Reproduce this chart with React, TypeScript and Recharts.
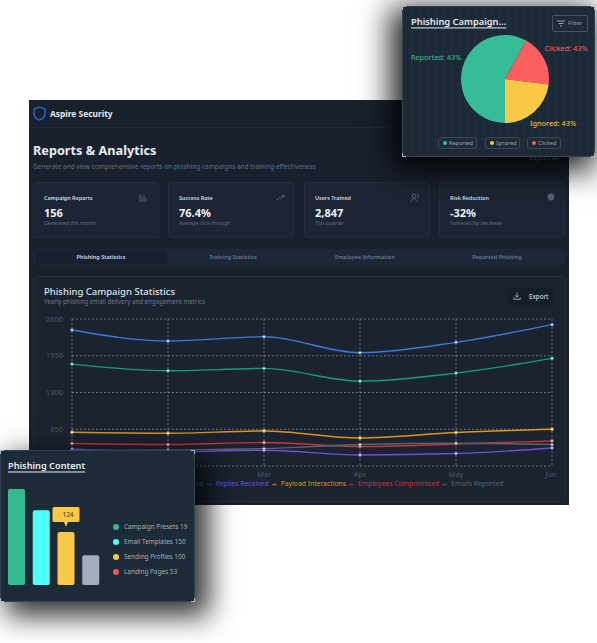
import React from "react";
import {
  Bar,
  BarChart,
  CartesianGrid,
  Cell,
  LabelList,
  Legend,
  Line,
  LineChart,
  Pie,
  PieChart,
  XAxis,
  YAxis,
} from "recharts";

const months = ["Jan", "Feb", "Mar", "Apr", "May", "Jun"];
const yTicks = [0, 650, 1300, 1950, 2600];

const emailsSent = [2405, 2210, 2286, 2003, 2187, 2500];
const emailsViewed = [1802, 1684, 1726, 1501, 1643, 1903];
const repliesReceived = [300, 250, 278, 195, 220, 319];
const payloadInteractions = [597, 580, 620, 496, 592, 650];
const employeesCompromised = [397, 380, 415, 344, 390, 443];
const emailsReported = [270, 285, 308, 379, 402, 379];

const lineSeries = [
  { name: "Emails Sent", values: emailsSent, color: "#3b78d8" },
  { name: "Emails Viewed", values: emailsViewed, color: "#0f9f78" },
  { name: "Replies Received", values: repliesReceived, color: "#6d4fd6" },
  { name: "Payload Interactions", values: payloadInteractions, color: "#dd9614" },
  { name: "Employees Compromised", values: employeesCompromised, color: "#c9323e" },
  { name: "Emails Reported", values: emailsReported, color: "#5b6370" },
];

const lineData = months.map((month, i) => {
  const row: Record<string, string | number> = { month };
  lineSeries.forEach((s) => (row[s.name] = s.values[i]));
  return row;
});

const pieNames = ["Reported", "Clicked", "Ignored"];
const pieValues = [58, 19, 23];
const pieColors = ["#36bd97", "#fb5e5e", "#f9c846"];
const pieLabels = ["Reported: 43%", "Clicked: 43%", "Ignored: 43%"];
const pieData = pieNames.map((name, i) => ({ name, value: pieValues[i] }));

const contentNames = ["Campaign Presets", "Email Templates", "Sending Profiles", "Landing Pages"];
const contentBars = [225, 175, 124, 70];
const contentCounts = [19, 150, 100, 53];
const barColors = ["#36b892", "#4ffff6", "#f9c846", "#a3adbd"];
const dotColors = ["#36b892", "#4ffff6", "#f9c846", "#f25a5a"];
const barData = contentNames.map((name, i) => ({ name, value: contentBars[i] }));

const statCards = [
  { title: "Campaign Reports", value: "156", sub: "Generated this month" },
  { title: "Success Rate", value: "76.4%", sub: "Average click-through" },
  { title: "Users Trained", value: "2,847", sub: "This quarter" },
  { title: "Risk Reduction", value: "-32%", sub: "Vulnerability decrease" },
];
const tabs = ["Phishing Statistics", "Training Statistics", "Employee Information", "Reported Phishing"];
const pills = [
  { name: "Reported", color: "#36bd97", x: 438, w: 39 },
  { name: "Ignored", color: "#f9c846", x: 485, w: 35 },
  { name: "Clicked", color: "#fb5e5e", x: 527, w: 34 },
];

const FONT = "'Noto Sans', sans-serif";

function T(props: {
  x: number;
  y: number;
  size: number;
  color: string;
  weight?: number;
  anchor?: "left" | "center";
  underline?: boolean;
  children: React.ReactNode;
}) {
  const { x, y, size, color, weight = 400, anchor = "left", underline, children } = props;
  return (
    <div
      style={{
        position: "absolute",
        left: x,
        top: y,
        transform: anchor === "center" ? "translate(-50%,-50%)" : "translateY(-50%)",
        fontSize: size,
        color,
        fontWeight: weight,
        whiteSpace: "nowrap",
        lineHeight: 1.2,
        textDecoration: underline ? "underline" : "none",
        textUnderlineOffset: 2,
      }}
    >
      {children}
    </div>
  );
}

function Box({ x, y, w, h, style }: { x: number; y: number; w: number; h: number; style?: React.CSSProperties }) {
  return <div style={{ position: "absolute", left: x, top: y, width: w, height: h, boxSizing: "border-box", ...style }} />;
}

// little light brackets on the corners of the floating cards
function Corners({ x, y, w, h }: { x: number; y: number; w: number; h: number }) {
  const c = "1px solid #aab8c0";
  return (
    <>
      <Box x={x} y={y} w={4} h={4} style={{ borderLeft: c, borderTop: c }} />
      <Box x={x + w - 4} y={y} w={4} h={4} style={{ borderRight: c, borderTop: c }} />
      <Box x={x} y={y + h - 4} w={4} h={4} style={{ borderLeft: c, borderBottom: c }} />
      <Box x={x + w - 4} y={y + h - 4} w={4} h={4} style={{ borderRight: c, borderBottom: c }} />
    </>
  );
}

const overlayCard: React.CSSProperties = {
  backgroundColor: "#1c2a37",
  backgroundImage:
    "repeating-linear-gradient(0deg, rgba(120,160,170,.035) 0 1px, transparent 1px 8px), repeating-linear-gradient(90deg, rgba(120,160,170,.035) 0 1px, transparent 1px 8px)",
  border: "1px solid #33424f",
};

function PieLabel(props: any) {
  const offsets = [
    [-69, -22],
    [61, -31],
    [48, 44],
  ];
  const [dx, dy] = offsets[props.index];
  return (
    <text
      x={props.cx + dx}
      y={props.cy + dy}
      textAnchor="middle"
      dominantBaseline="central"
      fontSize={7.4}
      fill={pieColors[props.index]}
    >
      {pieLabels[props.index]}
    </text>
  );
}

function BarCallout(props: any) {
  const { x, y, width, value, index } = props;
  if (index !== 2) return null;
  const cx = x + width / 2;
  return (
    <g>
      <path
        d={`M${cx - 12} ${y - 25} h24 a1.5 1.5 0 0 1 1.5 1.5 v12 a1.5 1.5 0 0 1 -1.5 1.5 h-10 l-2 5 l-2 -5 h-10 a1.5 1.5 0 0 1 -1.5 -1.5 v-12 a1.5 1.5 0 0 1 1.5 -1.5 z`}
        fill="#f9c846"
      />
      <text x={cx + 2} y={y - 17.5} textAnchor="middle" dominantBaseline="central" fontSize={6.5} fill="#3a3420">
        {value}
      </text>
    </g>
  );
}

export default function App() {
  return (
    <div style={{ position: "absolute", left: 0, top: 0, width: 597, height: 643, overflow: "hidden", background: "#fff", fontFamily: FONT }}>
      <style>{`.recharts-default-legend li { margin-right: 3px !important; }`}</style>
      {/* main dashboard panel */}
      <Box x={29} y={100} w={540} h={405} style={{ background: "#1a212e" }} />
      <Box x={29} y={127} w={540} h={1} style={{ background: "#232c3a" }} />
      <svg style={{ position: "absolute", left: 33, top: 106 }} width={13} height={15} viewBox="0 0 13 15">
        <path d="M6.5 1 L12 3 V7.5 C12 11 9.5 13 6.5 14 C3.5 13 1 11 1 7.5 V3 Z" fill="none" stroke="#2f6fd8" strokeWidth={1.3} />
      </svg>
      <T x={50} y={114} size={8.4} weight={700} color="#e3e8ee">Aspire Security</T>
      <T x={33} y={151} size={12.7} weight={700} color="#e8ecf1">Reports &amp; Analytics</T>
      <T x={33} y={167} size={6.5} color="#5f6e83">Generate and view comprehensive reports on phishing campaigns and training effectiveness</T>
      <T x={450} y={158} size={6.5} color="#3c4656">Last 30 days</T>
      <T x={530} y={158} size={6.5} color="#8a94a3">Export All</T>

      {statCards.map((c, i) => {
        const left = [33, 168, 304, 439][i];
        return (
          <React.Fragment key={c.title}>
            <Box x={left} y={182} w={126} h={55.5} style={{ background: "#1d2534", border: "1px solid #252e3e", borderRadius: 4 }} />
            <T x={left + 11} y={198} size={5.4} weight={600} color="#d5dbe3">{c.title}</T>
            <T x={left + 11} y={213} size={11} weight={700} color="#eef1f5">{c.value}</T>
            <T x={left + 11} y={223} size={5} color="#5f6e83">{c.sub}</T>
          </React.Fragment>
        );
      })}
      <svg style={{ position: "absolute", left: 139, top: 193 }} width={9} height={9} viewBox="0 0 9 9">
        <path d="M1 1 V8 H8 M3 7 V4 M5 7 V2 M7 7 V5" stroke="#5f6e83" strokeWidth={0.8} fill="none" />
      </svg>
      <svg style={{ position: "absolute", left: 276, top: 194 }} width={9} height={7} viewBox="0 0 9 7">
        <path d="M1 6 L3.5 3.5 L5 4.5 L8 1.5 M6 1.5 H8 V3.5" stroke="#5f6e83" strokeWidth={0.8} fill="none" />
      </svg>
      <svg style={{ position: "absolute", left: 410, top: 193 }} width={10} height={9} viewBox="0 0 10 9">
        <circle cx={4} cy={3} r={2} stroke="#5f6e83" strokeWidth={0.8} fill="none" />
        <path d="M1 8.5 C1 5 7 5 7 8.5 M7 1 C9 1.5 9 4.5 7 5" stroke="#5f6e83" strokeWidth={0.8} fill="none" />
      </svg>
      <svg style={{ position: "absolute", left: 547, top: 193 }} width={8} height={8} viewBox="0 0 8 8">
        <circle cx={4} cy={4} r={3.4} fill="#566275" />
      </svg>

      <Box x={33} y={249} w={532} h={16} style={{ background: "#1e2737", borderRadius: 3 }} />
      <Box x={35} y={250} w={132} h={14} style={{ background: "#182030", borderRadius: 2 }} />
      {tabs.map((t, i) => (
        <T key={t} x={[101, 233, 365, 497][i]} y={257} size={5.5} weight={600} anchor="center" color={i === 0 ? "#d5dbe3" : "#66778f"}>
          {t}
        </T>
      ))}

      <Box x={33} y={276} w={533} h={226} style={{ background: "#1b2331", border: "1px solid #252e3d", borderRadius: 4 }} />
      <T x={44} y={292} size={9.5} weight={500} color="#dfe4ea">Phishing Campaign Statistics</T>
      <T x={44} y={301.5} size={6.2} color="#6a7789">Yearly phishing email delivery and engagement metrics</T>
      <Box x={508} y={288} w={45} h={17} style={{ background: "#171e2a", borderRadius: 2 }} />
      <svg style={{ position: "absolute", left: 513, top: 292 }} width={8} height={8} viewBox="0 0 8 8">
        <path d="M4 0.5 V5 M2.2 3.4 L4 5.2 L5.8 3.4 M0.8 5.5 V7.3 H7.2 V5.5" stroke="#cfd5dd" strokeWidth={0.7} fill="none" />
      </svg>
      <T x={529} y={296.5} size={6.2} weight={500} color="#cfd5dd">Export</T>

      <div style={{ position: "absolute", left: 44, top: 312 }}>
        <LineChart width={512} height={178} data={lineData} margin={{ top: 7, right: 4, bottom: 2, left: 0 }}>
          <CartesianGrid stroke="#6b7382" strokeDasharray="2 2" />
          <XAxis dataKey="month" height={13} tick={{ fontSize: 7.5, fill: "#4c5768", dy: -2 }} tickLine={false} axisLine={false} tickMargin={2} />
          <YAxis width={28} domain={[0, 2600]} ticks={yTicks} tick={{ fontSize: 7.5, fill: "#4c5768" }} tickLine={false} axisLine={false} tickMargin={3} />
          <Legend iconSize={5} itemSorter={null} wrapperStyle={{ fontSize: 6.8, paddingLeft: 11, boxSizing: "border-box" }} />
          {lineSeries.map((s) => (
            <Line
              key={s.name}
              type="monotone"
              dataKey={s.name}
              stroke={s.color}
              strokeWidth={1.4}
              dot={{ r: 1.4, fill: "#fff", stroke: s.color, strokeWidth: 0.8 }}
              isAnimationActive={false}
            />
          ))}
        </LineChart>
      </div>

      {/* pie overlay */}
      <Box x={402} y={6} w={193} h={151} style={{ ...overlayCard, boxShadow: "-6px 8px 28px 6px rgba(0,0,0,.85)" }} />
      <Corners x={402} y={6} w={193} h={151} />
      <T x={411} y={22} size={9.3} weight={600} underline color="#e6ecee">Phishing Campaign...</T>
      <Box x={552} y={15} w={36} h={17} style={{ border: "1px solid #46535f", borderRadius: 2 }} />
      <svg style={{ position: "absolute", left: 557, top: 20 }} width={8} height={7} viewBox="0 0 8 7">
        <path d="M0 1 H8 M1.5 3.5 H6.5 M3 6 H5" stroke="#aab4bc" strokeWidth={0.9} />
      </svg>
      <T x={568} y={23.5} size={6} color="#8f9ba5">Filter</T>
      <div style={{ position: "absolute", left: 402, top: 6 }}>
        <PieChart width={193} height={151} margin={{ top: 0, right: 0, bottom: 0, left: 0 }}>
          <Pie
            data={pieData}
            dataKey="value"
            cx={103}
            cy={73}
            outerRadius={44}
            startAngle={270}
            endAngle={-90}
            stroke="none"
            label={PieLabel}
            labelLine={false}
            isAnimationActive={false}
          >
            {pieData.map((d, i) => (
              <Cell key={d.name} fill={pieColors[i]} />
            ))}
          </Pie>
        </PieChart>
      </div>
      {pills.map((p) => (
        <React.Fragment key={p.name}>
          <Box x={p.x} y={137} w={p.w} h={12} style={{ border: "1px solid #3c4955", borderRadius: 3 }} />
          <Box x={p.x + 5} y={141} w={4} h={4} style={{ background: p.color, borderRadius: "50%" }} />
          <T x={p.x + 11} y={143.2} size={5.5} color="#9aa6b0">{p.name}</T>
        </React.Fragment>
      ))}

      {/* bar overlay */}
      <Box x={0} y={450} w={195} h={152} style={{ ...overlayCard, boxShadow: "10px 10px 26px 4px rgba(0,0,0,.8)" }} />
      <Corners x={0} y={450} w={195} h={152} />
      <T x={8} y={466} size={9.2} weight={600} underline color="#e6ecee">Phishing Content</T>
      <div style={{ position: "absolute", left: 0, top: 460 }}>
        <BarChart width={110} height={130} data={barData} margin={{ top: 29, right: 7, bottom: 5, left: 4 }}>
          <XAxis dataKey="name" hide />
          <YAxis hide domain={[0, 225]} />
          <Bar dataKey="value" barSize={17} radius={2} isAnimationActive={false}>
            {barData.map((d, i) => (
              <Cell key={d.name} fill={barColors[i]} />
            ))}
            <LabelList dataKey="value" content={BarCallout} />
          </Bar>
        </BarChart>
      </div>
      {contentNames.map((name, i) => (
        <React.Fragment key={name}>
          <Box x={113} y={524 + i * 15} w={6} h={6} style={{ background: dotColors[i], borderRadius: "50%" }} />
          <T x={124} y={527 + i * 15} size={6.4} color="#9fb0b8">{name} {contentCounts[i]}</T>
        </React.Fragment>
      ))}
    </div>
  );
}
